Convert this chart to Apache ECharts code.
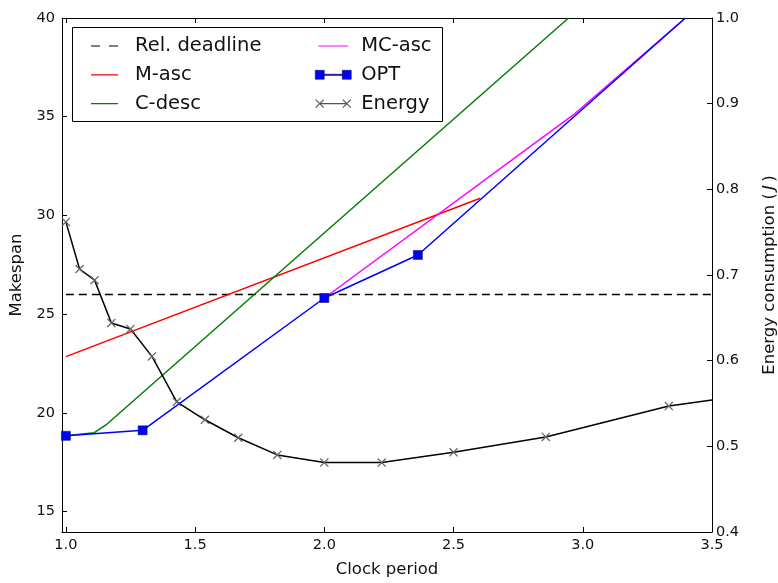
<!DOCTYPE html>
<html>
<head>
<meta charset="utf-8">
<script src="https://cdn.jsdelivr.net/npm/echarts@6/dist/echarts.min.js"></script>
<style>
  html, body { margin: 0; padding: 0; background: #fff; }
  #chart { width: 778px; height: 583px; }
</style>
</head>
<body>
<div id="chart"></div>
<script>
// Makespan (left axis) and energy (right axis) against the clock period.
const deadlineX = [1.0, 3.5];
const deadlineY = [26, 26];

const mAscX = [1.0, 2.603];
const mAscY = [22.85, 30.87];

const cDescX = [1.0, 1.11, 1.155, 2.945];
const cDescY = [18.84, 19.0, 19.39, 40.0];

const mcAscX = [2.0, 2.963, 3.397];
const mcAscY = [25.82, 35.09, 40.0];

// OPT schedule points; the last one is where the line leaves the plot.
const optX = [1.0, 1.297, 2.0, 2.362, 3.397];
const optY = [18.84, 19.12, 25.82, 28.0, 40.0];

const energyX = [1.0, 1.053, 1.111, 1.176, 1.25, 1.333, 1.429, 1.538, 1.667,
                 1.818, 2.0, 2.222, 2.5, 2.857, 3.333, 3.5];
const energyY = [0.762, 0.707, 0.694, 0.644, 0.637, 0.605, 0.552, 0.531, 0.510,
                 0.490, 0.481, 0.481, 0.493, 0.511, 0.547, 0.554];

const xTicks = ['1.0', '1.5', '2.0', '2.5', '3.0', '3.5'];
const leftTicks = ['15', '20', '25', '30', '35', '40'];
const rightTicks = ['0.4', '0.5', '0.6', '0.7', '0.8', '0.9', '1.0'];

const FONT = 'DejaVu Sans';
const INK = '#111';

const pairs = (xs, ys) => xs.map((x, i) => [x, ys[i]]);
// the final point of a series only continues the line to the frame
const openEnded = (xs, ys) => xs.map((x, i) =>
  i === xs.length - 1 ? { value: [x, ys[i]], symbolSize: 0 } : [x, ys[i]]);

const near = (v, list) => list.find(t => Math.abs(parseFloat(t) - v) < 1e-6);

// Legend glyphs. Tiny corner specks pin the icon box so thin strokes keep their height.
const pin = (w, h) => `M0,0L0.01,0L0,0.01ZM${w},${h}L${w - 0.01},${h}L${w},${h - 0.01}Z`;
const plainIcon = w => `path://${pin(w, 10)}M0,4.4H${w}V5.6H0Z`;
const dashIcon = 'path://' + pin(27, 10) + 'M0,4.4H9V5.6H0ZM18,4.4H27V5.6H18Z';
const mcIcon = 'path://' + pin(36, 10) + 'M3,4.4H33V5.6H3Z';
const optIcon = 'path://M0,0.5H9V9.5H0ZM9,4.4H27V5.6H9ZM27,0.5H36V9.5H27Z';
const energyIcon = 'path://M0.1,1.4L0.9,0.6L8.9,8.6L8.1,9.4ZM0.1,8.6L8.1,0.6L8.9,1.4L0.9,9.4Z' +
  'M4.5,4.45H31.5V5.55H4.5Z' +
  'M27.1,1.4L27.9,0.6L35.9,8.6L35.1,9.4ZM27.1,8.6L35.1,0.6L35.9,1.4L27.9,9.4Z';
const crossPath = 'path://M0,1L1,0L10,9L9,10ZM0,9L9,0L10,1L1,10Z';

const axisLine = { show: true, lineStyle: { color: '#000', width: 1 } };
const axisTick = { show: true, inside: true, length: 5, lineStyle: { color: '#000', width: 1 } };
const labelStyle = { color: INK, fontFamily: FONT, fontSize: 14.5 };
const nameStyle = { color: INK, fontFamily: FONT, fontSize: 16.5 };
const legendText = { color: INK, fontFamily: FONT, fontSize: 19.5, lineHeight: 20 };

const xRange = { min: 0.985, max: 3.5, splitNumber: 5 };

const chart = echarts.init(document.getElementById('chart'), null, { renderer: 'canvas' });

chart.setOption({
  animation: false,
  backgroundColor: '#fff',
  grid: { left: 62, right: 66, top: 18, bottom: 51, containLabel: false, outerBoundsMode: 'none' },
  xAxis: [
    {
      type: 'value', position: 'bottom', ...xRange,
      name: 'Clock period', nameLocation: 'middle', nameGap: 29, nameTextStyle: nameStyle,
      axisLine, axisTick,
      axisLabel: { ...labelStyle, margin: 6, formatter: v => near(v, xTicks) || '' },
      splitLine: { show: false }
    },
    {
      type: 'value', position: 'top', ...xRange,
      axisLine, axisTick,
      axisLabel: { show: false },
      splitLine: { show: false }
    }
  ],
  yAxis: [
    {
      type: 'value', position: 'left', min: 13.97, max: 40, splitNumber: 5,
      name: 'Makespan', nameLocation: 'middle', nameRotate: 90, nameGap: 34, nameTextStyle: nameStyle,
      axisLine, axisTick,
      axisLabel: { ...labelStyle, margin: 7, formatter: v => near(v, leftTicks) || '' },
      splitLine: { show: false }
    },
    {
      type: 'value', position: 'right', min: 0.4, max: 1.0, interval: 0.1,
      name: 'Energy consumption (\u2009{it|J}\u2009)', nameLocation: 'middle', nameRotate: 90, nameGap: 49,
      nameTextStyle: { ...nameStyle,
        rich: { it: { fontFamily: FONT, fontSize: 16.5, fontStyle: 'italic', color: INK } } },
      axisLine, axisTick,
      axisLabel: { ...labelStyle, margin: 4, formatter: v => near(v, rightTicks) || '' },
      splitLine: { show: false }
    }
  ],
  graphic: [{
    type: 'rect', z: 3,
    shape: { x: 72.5, y: 27.5, width: 370, height: 94 },
    style: { fill: '#fff', stroke: '#000', lineWidth: 1 }
  }],
  legend: [
    {
      z: 4, left: 86, top: 31, orient: 'vertical',
      itemWidth: 27, itemHeight: 10, itemGap: 8.8,
      textStyle: { ...legendText, padding: [0, 0, 0, 12] },
      data: [
        { name: 'Rel. deadline', icon: dashIcon, itemStyle: { color: '#000', borderWidth: 0 } },
        { name: 'M-asc', icon: plainIcon(27), itemStyle: { color: '#ff0000', borderWidth: 0 } },
        { name: 'C-desc', icon: plainIcon(27), itemStyle: { color: '#008000', borderWidth: 0 } }
      ]
    },
    {
      z: 4, left: 310, top: 31, orient: 'vertical',
      itemWidth: 36, itemHeight: 10, itemGap: 8.8,
      textStyle: { ...legendText, padding: [0, 0, 0, 5] },
      data: [
        { name: 'MC-asc', icon: mcIcon, itemStyle: { color: '#ff00ff', borderWidth: 0 } },
        { name: 'OPT', icon: optIcon, itemStyle: { color: '#0000ff', borderColor: '#000033', borderWidth: 0.5 } },
        { name: 'Energy', icon: energyIcon, itemStyle: { color: '#555', borderWidth: 0 } }
      ]
    }
  ],
  series: [
    {
      name: 'Rel. deadline', type: 'line', data: pairs(deadlineX, deadlineY), symbol: 'none',
      lineStyle: { color: '#000', width: 1.5, type: [8, 5] }, itemStyle: { color: '#000' }
    },
    {
      name: 'M-asc', type: 'line', data: pairs(mAscX, mAscY), symbol: 'none',
      lineStyle: { color: '#ff0000', width: 1.5 }, itemStyle: { color: '#ff0000' }
    },
    {
      name: 'C-desc', type: 'line', data: pairs(cDescX, cDescY), symbol: 'none',
      lineStyle: { color: '#008000', width: 1.5 }, itemStyle: { color: '#008000' }
    },
    {
      name: 'MC-asc', type: 'line', data: pairs(mcAscX, mcAscY), symbol: 'none',
      lineStyle: { color: '#ff00ff', width: 1.5 }, itemStyle: { color: '#ff00ff' }
    },
    {
      name: 'OPT', type: 'line', data: openEnded(optX, optY),
      symbol: 'rect', symbolSize: 9, showAllSymbol: true,
      lineStyle: { color: '#0000ff', width: 1.5 },
      itemStyle: { color: '#0000ff', borderColor: '#000033', borderWidth: 0.5 }
    },
    {
      name: 'Energy', type: 'line', yAxisIndex: 1, data: openEnded(energyX, energyY),
      symbol: crossPath, symbolSize: 9, showAllSymbol: true,
      lineStyle: { color: '#000', width: 1.5 },
      itemStyle: { color: '#666', borderWidth: 0 }
    }
  ]
});
</script>
</body>
</html>
